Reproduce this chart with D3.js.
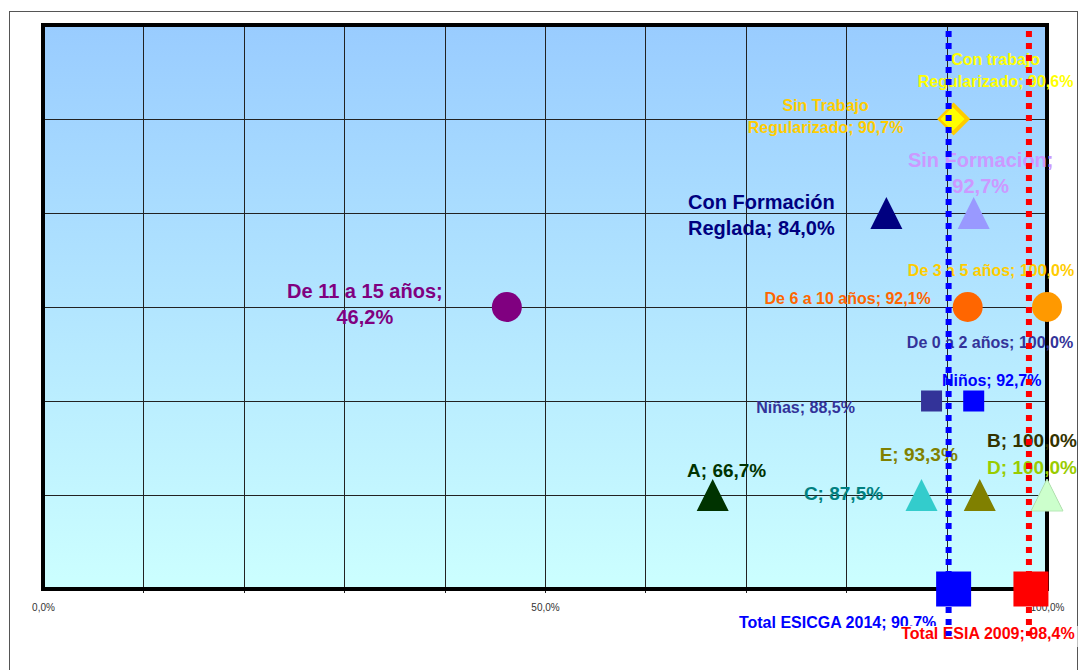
<!DOCTYPE html>
<html>
<head>
<meta charset="utf-8">
<script src="https://cdn.jsdelivr.net/npm/d3@7"></script>
<style>
  body { margin: 0; background: #fff; }
  text { font-family: "Liberation Sans", Arial, sans-serif; }
</style>
</head>
<body>
<div class="container"></div>
<script>
const WIDTH = 1081;
const HEIGHT = 670;

// series: name, label text lines, x value (%), y row
var names = ['Total ESICGA 2014', 'Total ESIA 2009', 'A', 'B', 'C', 'D', 'E',
  'Niñas', 'Niños', 'De 0 a 2 años', 'De 11 a 15 años', 'De 6 a 10 años', 'De 3 a 5 años',
  'Con Formación Reglada', 'Sin Formación', 'Sin Trabajo Regularizado', 'Con trabajo Regularizado'];
var xValues = [90.7, 98.4, 66.7, 100.0, 87.5, 100.0, 93.3,
  88.5, 92.7, 100.0, 46.2, 92.1, 100.0,
  84.0, 92.7, 90.7, 90.6];
var yValues = [0, 0, 1, 1, 1, 1, 1,
  2, 2, 2, 3, 3, 3,
  4, 4, 5, 5];
var labelLines = [
  ['Total ESICGA 2014; 90,7%'], ['Total ESIA 2009; 98,4%'],
  ['A; 66,7%'], ['B; 100,0%'], ['C; 87,5%'], ['D; 100,0%'], ['E; 93,3%'],
  ['Niñas; 88,5%'], ['Niños; 92,7%'], ['De 0 a 2 años; 100,0%'],
  ['De 11 a 15 años;', '46,2%'], ['De 6 a 10 años; 92,1%'], ['De 3 a 5 años; 100,0%'],
  ['Con Formación', 'Reglada; 84,0%'], ['Sin Formación;', '92,7%'],
  ['Sin Trabajo', 'Regularizado; 90,7%'], ['Con trabajo', 'Regularizado; 90,6%']
];

// dotted reference lines (x %)
var refLines = [90.2, 98.2];
var refColors = ['#0000FF', '#FF0000'];

var xTicks = [0, 50, 100];
var xTickLabels = ['0,0%', '50,0%', '100,0%'];

// marker / label style per series: shape, size, fill, label colour, font size, label offset
var styles = [
  {shape: 'square', size: 35, fill: '#0000FF', color: '#0000FF', fs: 16, dx: -116, dy: 39},
  {shape: 'square', size: 35, fill: '#FF0000', color: '#FF0000', fs: 16, dx: -43, dy: 50, box: true},
  {shape: 'triangle', size: 32, fill: '#003300', color: '#003300', fs: 19, dx: 14, dy: -18},
  {shape: 'triangle', size: 32, fill: '#333300', color: '#333300', fs: 19, dx: -15, dy: -48},
  {shape: 'triangle', size: 32, fill: '#33CCCC', color: '#008080', fs: 19, dx: -78, dy: 5},
  {shape: 'triangle', size: 32, fill: '#CCFFCC', color: '#99CC00', fs: 19, dx: -15, dy: -21},
  {shape: 'triangle', size: 32, fill: '#808000', color: '#808000', fs: 19, dx: -61, dy: -34},
  {shape: 'square', size: 21, fill: '#333399', color: '#333399', fs: 16, dx: -126, dy: 12},
  {shape: 'square', size: 21, fill: '#0000FF', color: '#0000FF', fs: 16, dx: 18, dy: -15},
  {shape: 'none', size: 0, fill: 'none', color: '#333399', fs: 16, dx: -57, dy: -53},
  {shape: 'circle', size: 30, fill: '#800080', color: '#800080', fs: 20, dx: -142, dy: -9},
  {shape: 'circle', size: 30, fill: '#FF6600', color: '#FF6600', fs: 16, dx: -120, dy: -3},
  {shape: 'circle', size: 30, fill: '#FF9900', color: '#FFCC00', fs: 16, dx: -56, dy: -31},
  {shape: 'triangle', size: 32, fill: '#000080', color: '#000080', fs: 20, dx: -125, dy: -4},
  {shape: 'triangle', size: 32, fill: '#9999FF', color: '#CC99FF', fs: 20, dx: 7, dy: -46},
  {shape: 'diamond', size: 33, fill: '#FFCC00', color: '#FFCC00', fs: 16, dx: -128, dy: -8},
  {shape: 'diamond', size: 24, fill: '#FFFF00', color: '#FFFF00', fs: 16, dx: 43, dy: -54}
];

var xScale = d3.scaleLinear().domain([0, 100]).range([43, 1047]);
var yScale = d3.scaleLinear().domain([0, 6]).range([589, 25]);

var svg = d3.select('.container').append('svg')
  .attr('width', WIDTH)
  .attr('height', HEIGHT);

// outer chart frame
svg.append('rect')
  .attr('x', 9.5).attr('y', 11.5)
  .attr('width', 1068).attr('height', 700)
  .attr('fill', '#fff').attr('stroke', '#555').attr('stroke-width', 1);

var defs = svg.append('defs');
var grad = defs.append('linearGradient')
  .attr('id', 'bg').attr('x1', 0).attr('y1', 0).attr('x2', 0).attr('y2', 1);
grad.append('stop').attr('offset', '0%').attr('stop-color', '#99CCFF');
grad.append('stop').attr('offset', '100%').attr('stop-color', '#CCFFFF');

svg.append('rect')
  .attr('x', xScale(0)).attr('y', yScale(6))
  .attr('width', xScale(100) - xScale(0))
  .attr('height', yScale(0) - yScale(6))
  .attr('fill', 'url(#bg)');

// gridlines
var grid = svg.append('g');
grid.selectAll('.vg').data(d3.range(10, 100, 10)).enter().append('line')
  .attr('x1', function (d) { return Math.round(xScale(d)) + 0.5; })
  .attr('x2', function (d) { return Math.round(xScale(d)) + 0.5; })
  .attr('y1', yScale(6)).attr('y2', yScale(0) + 4)
  .attr('stroke', '#222').attr('stroke-width', 1);
grid.selectAll('.hg').data(d3.range(1, 6)).enter().append('line')
  .attr('y1', function (d) { return Math.round(yScale(d)) + 0.5; })
  .attr('y2', function (d) { return Math.round(yScale(d)) + 0.5; })
  .attr('x1', xScale(0)).attr('x2', xScale(100))
  .attr('stroke', '#222').attr('stroke-width', 1);

// plot border
svg.append('rect')
  .attr('x', xScale(0)).attr('y', yScale(6))
  .attr('width', xScale(100) - xScale(0))
  .attr('height', yScale(0) - yScale(6))
  .attr('fill', 'none').attr('stroke', '#000').attr('stroke-width', 4);

// x axis tick labels
var xAxis = d3.axisBottom(xScale)
  .tickValues(xTicks)
  .tickSize(0)
  .tickFormat(function (d, i) { return xTickLabels[i]; });
var ax = svg.append('g')
  .attr('transform', 'translate(0,' + (yScale(0) + 12) + ')')
  .call(xAxis);
ax.select('.domain').remove();
ax.selectAll('text')
  .attr('font-family', '"Liberation Sans", Arial, sans-serif')
  .attr('font-size', 10).attr('fill', '#333');

var data = names.map(function (n, i) {
  return {name: n, x: xValues[i], y: yValues[i], lines: labelLines[i], s: styles[i]};
});

// labels
var labels = svg.append('g');
data.forEach(function (d) {
  var cx = xScale(d.x) + d.s.dx;
  var cy = yScale(d.y) + d.s.dy;
  var g = labels.append('g');
  var t = g.append('text')
    .attr('text-anchor', 'middle')
    .attr('font-weight', 'bold')
    .attr('font-size', d.s.fs)
    .attr('fill', d.s.color);
  d.lines.forEach(function (l, k) {
    t.append('tspan').attr('x', cx).attr('y', cy + k * (d.s.fs + 6)).text(l);
  });
  if (d.s.box) {
    var bb = t.node().getBBox();
    g.insert('rect', 'text')
      .attr('x', bb.x - 3).attr('y', bb.y + 1)
      .attr('width', bb.width + 6).attr('height', bb.height + 4)
      .attr('fill', '#fff');
  }
});

// markers
var markers = svg.append('g');
data.forEach(function (d) {
  var px = xScale(d.x), py = yScale(d.y), s = d.s.size;
  if (d.s.shape === 'none') return;
  if (d.s.shape === 'square') {
    markers.append('rect')
      .attr('x', px - s / 2).attr('y', py - s / 2)
      .attr('width', s).attr('height', s)
      .attr('fill', d.s.fill);
  } else if (d.s.shape === 'triangle') {
    var pts = [[px, py - s / 2], [px + s / 2, py + s / 2], [px - s / 2, py + s / 2]];
    markers.append('path')
      .attr('d', d3.line()(pts) + 'Z')
      .attr('fill', d.s.fill)
      .attr('stroke', d.s.fill === '#CCFFCC' ? '#B8E8B8' : 'none');
  } else if (d.s.shape === 'circle') {
    markers.append('circle')
      .attr('cx', px).attr('cy', py).attr('r', s / 2)
      .attr('fill', d.s.fill);
  } else {
    var dpts = [[px, py - s / 2], [px + s / 2, py], [px, py + s / 2], [px - s / 2, py]];
    markers.append('path')
      .attr('d', d3.line()(dpts) + 'Z')
      .attr('fill', d.s.fill);
  }
});

// dotted reference lines
svg.append('g').selectAll('line').data(refLines).enter().append('line')
  .attr('x1', function (d) { return xScale(d); })
  .attr('x2', function (d) { return xScale(d); })
  .attr('y1', yScale(6) + 6)
  .attr('y2', yScale(-0.5))
  .attr('stroke', function (d, i) { return refColors[i]; })
  .attr('stroke-width', 6)
  .attr('stroke-dasharray', '6,6');
</script>
</body>
</html>
